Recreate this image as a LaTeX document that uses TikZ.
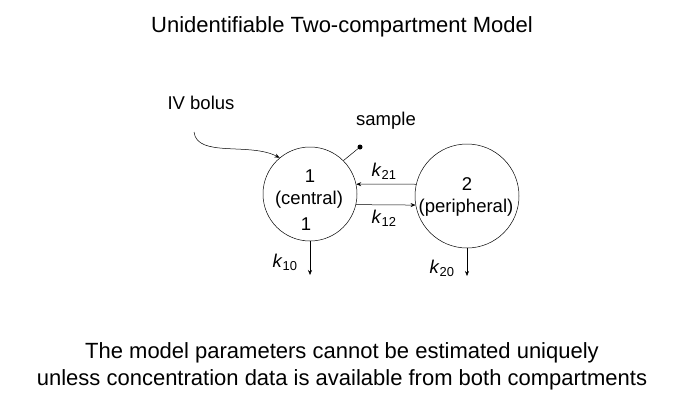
\documentclass[tikz,border=0pt]{standalone}
\usepackage{fontspec}
\setmainfont{Liberation Sans}
\usetikzlibrary{arrows.meta}
\begin{document}
\begin{tikzpicture}[x=1pt,y=-1pt,
  comp/.style={draw, circle, line width=0.5pt, inner sep=0pt},
  lbl/.style={font=\fontsize{18.5}{22}\selectfont, inner sep=0pt},
  flow/.style={-{Stealth[length=5pt,width=4pt]}, line width=0.5pt},
  big/.style={font=\fontsize{22}{27}\selectfont, align=center, inner sep=0pt}]
\useasboundingbox (0,0) rectangle (685,407);
\node[big] (title) at (342,27) {Unidentifiable Two-compartment Model};
\node[comp, minimum size=94pt] (c1) at (310,194) {};
\node[comp, minimum size=104pt] (c2) at (467,196) {};
\node[lbl] (c1a) at (310,176) {1};
\node[lbl] (c1b) at (309,200) {(central)};
\node[lbl] (c1c) at (306,224) {1};
\node[lbl] (c2a) at (467,184) {2};
\node[lbl] (c2b) at (466,208) {(peripheral)};
% exchange
\draw[flow] (c2.167) -- (c1.12);
\draw[flow] (c1.-13.5) -- (c2.190);
\node[lbl] (k21) at (384,171) {\textit{k}\textsubscript{21}};
\node[lbl] (k12) at (384,218) {\textit{k}\textsubscript{12}};
% elimination
\coordinate (e1) at (310,275);
\coordinate (e2) at (467,276);
\draw[flow] (c1.south) -- (e1);
\draw[flow] (c2.south) -- (e2);
\node[lbl] (k10) at (285,262) {\textit{k}\textsubscript{10}};
\node[lbl] (k20) at (442,268) {\textit{k}\textsubscript{20}};
% bolus
\node[lbl] (iv) at (201,103) {IV bolus};
\coordinate (ivs) at (194,132);
\draw[flow] (ivs) .. controls (197,158) and (250,142) .. (c1.130);
% sample
\node[lbl] (smp) at (386,121) {sample};
\node[circle, fill, inner sep=0pt, minimum size=5pt] (dot) at (360,147) {};
\draw[line width=0.5pt] (dot) -- (c1.45);
% caption
\node[big] (cap) at (342,366) {The model parameters cannot be estimated uniquely\\unless concentration data is available from both compartments};
\end{tikzpicture}
\end{document}
